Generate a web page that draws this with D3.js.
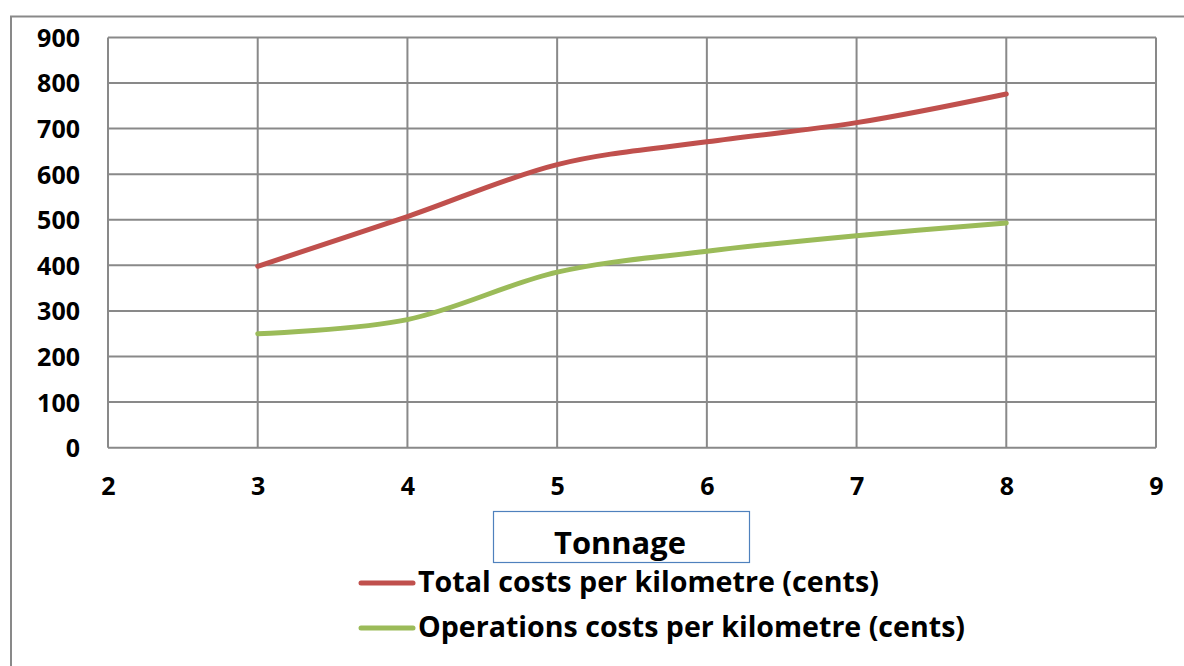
<!DOCTYPE html>
<html>
<head>
<meta charset="utf-8">
<script src="https://cdn.jsdelivr.net/npm/d3@7"></script>
<style>
  html, body { margin: 0; padding: 0; background: #fff; }
  svg { display: block; }
  text { font-family: "Open Sans", Lato, sans-serif; font-weight: 700; fill: #000; }
</style>
</head>
<body>
<svg id="chart" width="1184" height="666"></svg>
<script>
// Tonnage on the x axis, cost in cents per kilometre on the y axis
const tonnage = [3, 4, 5, 6, 7, 8];
const totalCosts = [398, 507, 621, 671, 713, 776];
const operationsCosts = [250, 281, 385, 431, 465, 493];
const seriesNames = ["Total costs per kilometre (cents)", "Operations costs per kilometre (cents)"];
const seriesColors = ["#C0504D", "#9BBB59"];
const xTicks = [2, 3, 4, 5, 6, 7, 8, 9];
const yTicks = [0, 100, 200, 300, 400, 500, 600, 700, 800, 900];
const xTitle = "Tonnage";

const svg = d3.select("#chart");
const gridColor = "#898989";
const fontFamily = "'Open Sans', Lato, sans-serif";

// shrink or grow a text node so it spans the given width
function fitWidth(sel, width) {
  const node = sel.node();
  const base = parseFloat(sel.attr("font-size"));
  const len = node.getComputedTextLength();
  if (len > 0) sel.attr("font-size", (base * width / len).toFixed(2));
  return sel;
}

// chart frame
svg.append("rect")
  .attr("x", 11).attr("y", 16.5)
  .attr("width", 1300).attr("height", 800)
  .attr("fill", "none").attr("stroke", gridColor).attr("stroke-width", 2);

const x = d3.scaleLinear().domain([2, 9]).range([108, 1156]);
const y = d3.scaleLinear().domain([0, 900]).range([447.7, 37.4]);

// gridlines
const grid = svg.append("g");
grid.selectAll("line.h").data(yTicks).join("line")
  .attr("x1", x(2)).attr("x2", x(9))
  .attr("y1", d => y(d)).attr("y2", d => y(d))
  .attr("stroke", gridColor).attr("stroke-width", 2);
grid.selectAll("line.v").data(xTicks).join("line")
  .attr("x1", d => x(d)).attr("x2", d => x(d))
  .attr("y1", y(0)).attr("y2", y(900))
  .attr("stroke", gridColor).attr("stroke-width", 2);

// y axis labels
const yAxis = svg.append("g")
  .attr("transform", `translate(${x(2)},0)`)
  .call(d3.axisLeft(y).tickValues(yTicks).tickSize(0).tickPadding(28).tickFormat(d3.format("d")));
yAxis.select(".domain").remove();
yAxis.selectAll("text").attr("font-size", 25).attr("dy", "0.36em")
  .style("font-family", fontFamily).style("font-weight", 700);

// x axis labels
const xAxis = svg.append("g")
  .attr("transform", `translate(0,${y(0)})`)
  .call(d3.axisBottom(x).tickValues(xTicks).tickSize(0).tickPadding(38).tickFormat(d3.format("d")));
xAxis.select(".domain").remove();
xAxis.selectAll("text").attr("font-size", 25).attr("dy", "0.36em")
  .style("font-family", fontFamily).style("font-weight", 700);

// series lines (smoothed)
const line = d3.line()
  .x((d, i) => x(tonnage[i]))
  .y(d => y(d))
  .curve(d3.curveCardinal.tension(0));

[totalCosts, operationsCosts].forEach((vals, i) => {
  svg.append("path")
    .datum(vals)
    .attr("d", line)
    .attr("fill", "none")
    .attr("stroke", seriesColors[i])
    .attr("stroke-width", 5)
    .attr("stroke-linecap", "round")
    .attr("stroke-linejoin", "round");
});

// axis title in its box
svg.append("rect")
  .attr("x", 493.5).attr("y", 511.5).attr("width", 256).attr("height", 51)
  .attr("fill", "#fff").attr("stroke", "#4F81BD").attr("stroke-width", 1.2);
fitWidth(svg.append("text")
  .attr("x", 620).attr("y", 554)
  .attr("text-anchor", "middle")
  .attr("font-size", 30)
  .text(xTitle), 132);

// legend
const legendY = [583, 628];
const legendWidths = [461, 547];
seriesNames.forEach((name, i) => {
  svg.append("line")
    .attr("x1", 361).attr("x2", 413)
    .attr("y1", legendY[i]).attr("y2", legendY[i])
    .attr("stroke", seriesColors[i]).attr("stroke-width", 5)
    .attr("stroke-linecap", "round");
  fitWidth(svg.append("text")
    .attr("x", 418).attr("y", legendY[i] + 9)
    .attr("font-size", 27)
    .text(name), legendWidths[i]);
});
</script>
</body>
</html>
